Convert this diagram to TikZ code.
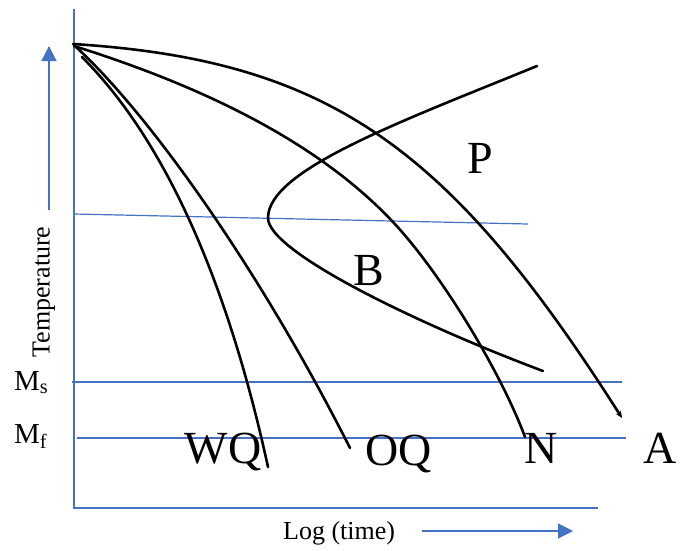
\documentclass[tikz,border=0pt]{standalone}
\usepackage{fontspec}
\setmainfont{Liberation Serif}
\usetikzlibrary{arrows.meta}
\definecolor{axblue}{HTML}{4472C4}
\begin{document}
\begin{tikzpicture}[x=1pt,y=-1pt,
  ax/.style={draw=axblue,line width=1.2pt},
  curve/.style={draw=black,line width=2.6pt,line cap=round,line join=round},
  big/.style={inner sep=0pt,anchor=base,font=\fontsize{46}{50}\selectfont},
  lab/.style={inner sep=0pt,font=\fontsize{26}{30}\selectfont},
  mlab/.style={inner sep=0pt,anchor=base west,font=\fontsize{29}{32}\selectfont}]
\useasboundingbox (0,0) rectangle (680,550);
% axes
\coordinate (o) at (74,508);
\coordinate (ytop) at (74,9);
\coordinate (xend) at (598,508);
\draw[ax] (ytop) -- (o) -- (xend);
% horizontal lines
\coordinate (b1) at (74,214);
\coordinate (b2) at (528,224);
\draw[ax] (b1) -- (b2);
\coordinate (ms1) at (72,382);
\coordinate (ms2) at (622,382);
\draw[ax] (ms1) -- (ms2);
\coordinate (mf1) at (77,438);
\coordinate (mf2) at (626,438);
\draw[ax] (mf1) -- (mf2);
% axis arrows
\coordinate (ua1) at (49,210);
\coordinate (ua2) at (49,46);
\draw[ax,-{Triangle[length=15pt,width=15pt]}] (ua1) -- (ua2);
\coordinate (ra1) at (422,531);
\coordinate (ra2) at (573,531);
\draw[ax,-{Triangle[length=15pt,width=15pt]}] (ra1) -- (ra2);
% cooling curves
\coordinate (wq0) at (82,57);   \coordinate (wq1) at (268,467);
\coordinate (oq0) at (76,47);   \coordinate (oq1) at (350,448);
\coordinate (n0) at (74,46);    \coordinate (nm) at (393,222); \coordinate (n1) at (525,437);
\coordinate (a0) at (73,44);    \coordinate (a1) at (622,418);
\draw[curve] (wq0) .. controls (160,135) and (225,270) .. (wq1);
\draw[curve] (oq0) .. controls (150,115) and (260,270) .. (oq1);
\draw[curve] (n0) .. controls (230,95) and (330,155) .. (nm)
                  .. controls (440,272) and (500,370) .. (n1);
\draw[curve,-{Stealth[length=7pt,width=6pt]}] (a0) .. controls (330,60) and (450,148) .. (a1);
% C curve (start of transformation)
\coordinate (c0) at (537,66); \coordinate (nose) at (268,218); \coordinate (c1) at (543,371);
\draw[curve] (c0) .. controls (400,122) and (268,170) .. (nose)
                  .. controls (268,252) and (420,325) .. (c1);
% labels
\node[big] (P) at (480,173) {P};
\node[big] (B) at (369,285) {B};
\node[big] (WQ) at (223,463) {WQ};
\node[big] (OQ) at (399,465) {OQ};
\node[big] (N) at (541,463) {N};
\node[big] (A) at (660,463) {A};
\node[mlab] (Ms) at (14,390) {M\textsubscript{s}};
\node[mlab] (Mf) at (14,443) {M\textsubscript{f}};
\node[lab,rotate=90] (T) at (44,292) {Temperature};
\node[lab,anchor=base west] (L) at (283,539) {Log (time)};
\end{tikzpicture}
\end{document}
